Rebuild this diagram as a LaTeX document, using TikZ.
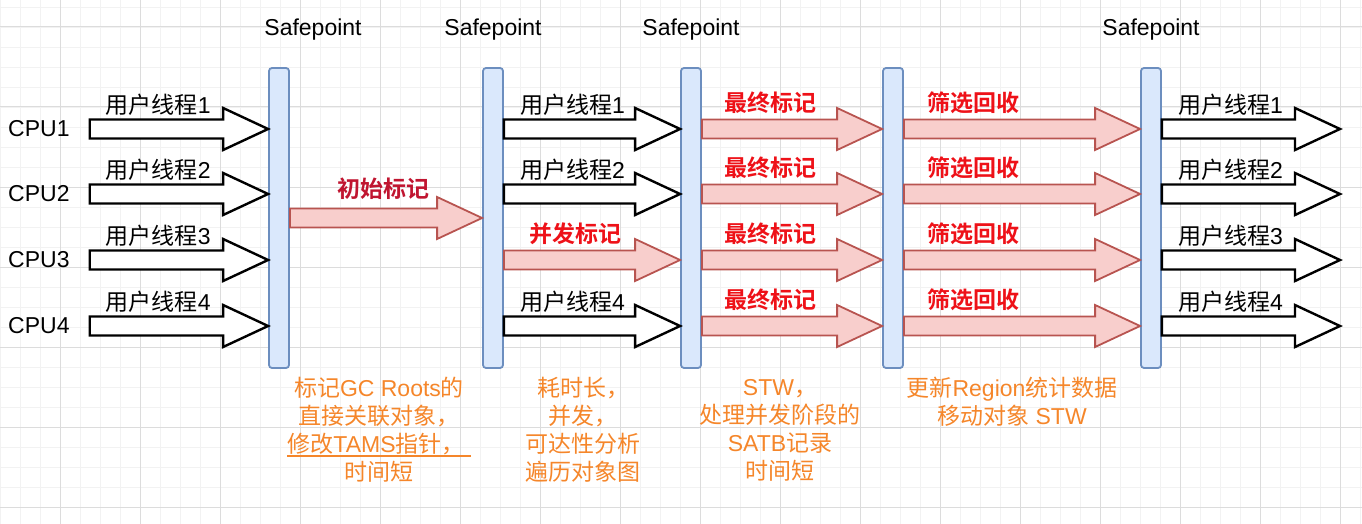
\documentclass[tikz,border=0pt]{standalone}
\usepackage{fontspec}
\setmainfont{Liberation Sans}
\newfontfamily\cjkfont{Noto Sans CJK SC}[BoldFont={Noto Sans CJK SC Bold}]
\newcommand{\zh}[1]{{\cjkfont #1}}
\newsavebox\ulbox
\newcommand{\uln}[1]{\sbox\ulbox{#1}\rlap{\rule[-4pt]{\wd\ulbox}{1.8pt}}\usebox\ulbox}
\usepackage{xcolor}
\usetikzlibrary{calc, positioning}

\definecolor{gridLight}{HTML}{F2F2F2}
\definecolor{gridDark}{HTML}{DCDCDC}
\definecolor{barFill}{HTML}{DAE8FC}
\definecolor{barDraw}{HTML}{6C8EBF}
\definecolor{arrowFill}{HTML}{F8CECC}
\definecolor{arrowDraw}{HTML}{B85450}
\definecolor{markRed}{HTML}{EE1118}
\definecolor{initRed}{HTML}{C01530}
\definecolor{noteOrange}{HTML}{F5862A}

\tikzset{
    font=\fontsize{23}{28}\selectfont,
    % Grid
    gridMinor/.style={draw=gridLight, line width=0.8pt},
    gridMajor/.style={draw=gridDark, line width=1pt},
    % Shapes
    safebar/.style={rectangle, draw=barDraw, fill=barFill, line width=1.8pt, rounded corners=3pt,
                    minimum width=20pt, minimum height=300pt, inner sep=0pt},
    txt/.style={inner sep=0pt},
    % Arrows
    userArrow/.style={draw=black, fill=white, line width=2.4pt},
    markArrow/.style={draw=arrowDraw, fill=arrowFill, line width=1.8pt},
    % Labels
    thrLbl/.style={anchor=base west, inner sep=0pt, xshift=15pt, yshift=6pt},
    markLbl/.style={anchor=base west, inner sep=0pt, yshift=8pt, text=markRed,
                    font=\fontsize{23}{28}\selectfont\bfseries},
    note/.style={align=center, text=noteOrange, inner sep=0pt}
}

% block arrow: style, from, to, label style, label
\newcommand{\blockarrow}[5]{%
  \draw[#1] let \p1=(#2), \p2=(#3) in
    (\x1,\y1+9.5pt) -- (\x2-45pt,\y1+9.5pt) -- (\x2-45pt,\y1+21pt) -- (\x2,\y1)
    -- (\x2-45pt,\y1-21pt) -- (\x2-45pt,\y1-9.5pt) -- (\x1,\y1-9.5pt) -- cycle
    (\x1,\y1+9.5pt) node[#4] {#5};}

\begin{document}
\begin{tikzpicture}[x=1pt, y=-1pt]

\useasboundingbox (0,0) rectangle (1362,524);

% background grid
\foreach \gx in {0,20,...,1360} \draw[gridMinor] (\gx,0) -- (\gx,524);
\foreach \gy in {7,27,...,517} \draw[gridMinor] (0,\gy) -- (1362,\gy);
\foreach \gx in {60,140,...,1340} \draw[gridMajor] (\gx,0) -- (\gx,524);
\foreach \gy in {27,107,...,507} \draw[gridMajor] (0,\gy) -- (1362,\gy);

% safepoints
\node[safebar] (sp1) at (279,218) {};
\node[safebar] (sp2) at (493,218) {};
\node[safebar] (sp3) at (691,218) {};
\node[safebar] (sp4) at (893,218) {};
\node[safebar] (sp5) at (1151,218) {};

\node[txt] (spl1) at (313,30) {Safepoint};
\node[txt] (spl2) at (493,30) {Safepoint};
\node[txt] (spl3) at (691,30) {Safepoint};
\node[txt] (spl5) at (1151,30) {Safepoint};

% cpus
\node[txt, anchor=west] (cpu1) at (8,129) {CPU1};
\node[txt, anchor=west] (cpu2) at (8,194) {CPU2};
\node[txt, anchor=west] (cpu3) at (8,260) {CPU3};
\node[txt, anchor=west] (cpu4) at (8,326) {CPU4};
\coordinate (exit) at (1340,0);

% user threads
\foreach \r in {1,...,4}
  \blockarrow{userArrow}{$(cpu\r.east)+(20,0)$}{sp1.west |- cpu\r}{thrLbl}{\zh{用户线程}\r};

% initial mark
\blockarrow{markArrow}{sp1.east}{sp2.west}{markLbl, text=initRed, xshift=47pt, yshift=3pt}{\zh{初始标记}};

% concurrent mark
\foreach \r in {1,2,4}
  \blockarrow{userArrow}{sp2.east |- cpu\r}{sp3.west |- cpu\r}{thrLbl}{\zh{用户线程}\r};
\blockarrow{markArrow}{sp2.east |- cpu3}{sp3.west |- cpu3}{markLbl, xshift=25pt}{\zh{并发标记}};

% final mark
\foreach \r in {1,...,4}
  \blockarrow{markArrow}{sp3.east |- cpu\r}{sp4.west |- cpu\r}{markLbl, xshift=22pt}{\zh{最终标记}};

% cleanup
\foreach \r in {1,...,4}
  \blockarrow{markArrow}{sp4.east |- cpu\r}{sp5.west |- cpu\r}{markLbl, xshift=23pt}{\zh{筛选回收}};

% back to user
\foreach \r in {1,...,4}
  \blockarrow{userArrow}{sp5.east |- cpu\r}{exit |- cpu\r}{thrLbl}{\zh{用户线程}\r};

% notes
\node[note] (n1) at (379,430) {\zh{标记}GC Roots\zh{的}\\
  \zh{直接关联对象，}\\
  \uln{\zh{修改}TAMS\zh{指针，}\hspace{6pt}}\\
  \zh{时间短}};
\node[note] (n2) at (583,430) {\zh{耗时长，}\\ \zh{并发，}\\ \zh{可达性分析}\\ \zh{遍历对象图}};
\node[note] (n3) at (780,430) {STW\zh{，}\\ \zh{处理并发阶段的}\\ SATB\zh{记录}\\ \zh{时间短}};
\node[note] (n4) at (1012,402) {\zh{更新}Region\zh{统计数据}\\ \zh{移动对象} STW};

\end{tikzpicture}
\end{document}
